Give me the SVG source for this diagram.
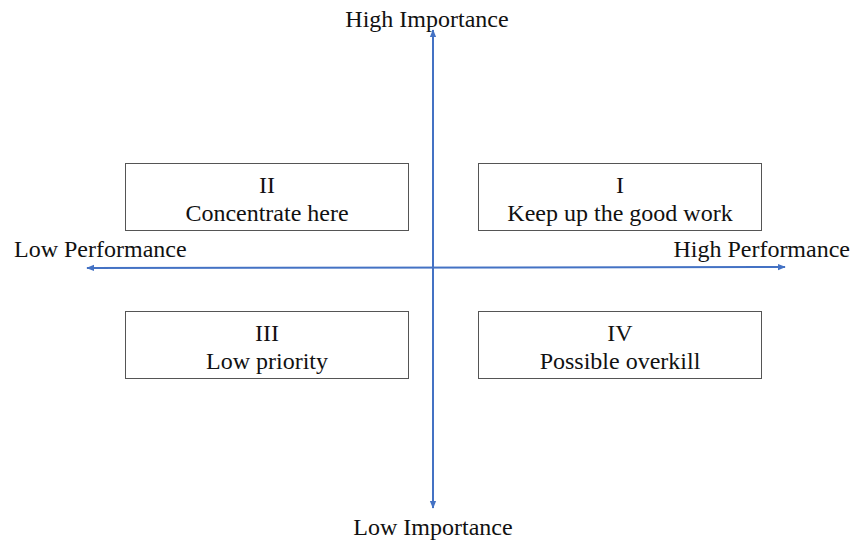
<svg xmlns="http://www.w3.org/2000/svg" width="856" height="544" viewBox="0 0 856 544">
<style>
text{font-family:"Liberation Serif","Times New Roman",serif;font-size:24px;fill:#111}
.box{fill:#fff;stroke:#555;stroke-width:1}
.ax{stroke:#4472C4;stroke-width:2;fill:none}
</style>
<defs>
<marker id="ah" viewBox="0 0 10 10" refX="9" refY="5" markerWidth="4" markerHeight="4" orient="auto-start-reverse" markerUnits="strokeWidth">
<path d="M0,1 L10,5 L0,9 z" fill="#4472C4"/>
</marker>
</defs>
<rect width="856" height="544" fill="#fff"/>
<g id="connectors">
<line class="ax" x1="433" y1="508" x2="433" y2="30" marker-start="url(#ah)" marker-end="url(#ah)"/>
<line class="ax" x1="87" y1="268" x2="785" y2="267" marker-start="url(#ah)" marker-end="url(#ah)"/>
</g>
<g id="q2"><rect class="box" x="125.5" y="163.5" width="283" height="67"/><text x="267" y="193" text-anchor="middle">II</text><text x="267" y="221" text-anchor="middle">Concentrate here</text></g>
<g id="q1"><rect class="box" x="478.5" y="163.5" width="283" height="67"/><text x="620" y="193" text-anchor="middle">I</text><text x="620" y="221" text-anchor="middle">Keep up the good work</text></g>
<g id="q3"><rect class="box" x="125.5" y="311.5" width="283" height="67"/><text x="267" y="341" text-anchor="middle">III</text><text x="267" y="369" text-anchor="middle">Low priority</text></g>
<g id="q4"><rect class="box" x="478.5" y="311.5" width="283" height="67"/><text x="620" y="341" text-anchor="middle">IV</text><text x="620" y="369" text-anchor="middle">Possible overkill</text></g>
<g id="labels">
<text x="427" y="27" text-anchor="middle">High Importance</text>
<text x="433" y="535" text-anchor="middle">Low Importance</text>
<text x="14" y="257">Low Performance</text>
<text x="850" y="257" text-anchor="end">High Performance</text>
</g>
</svg>
